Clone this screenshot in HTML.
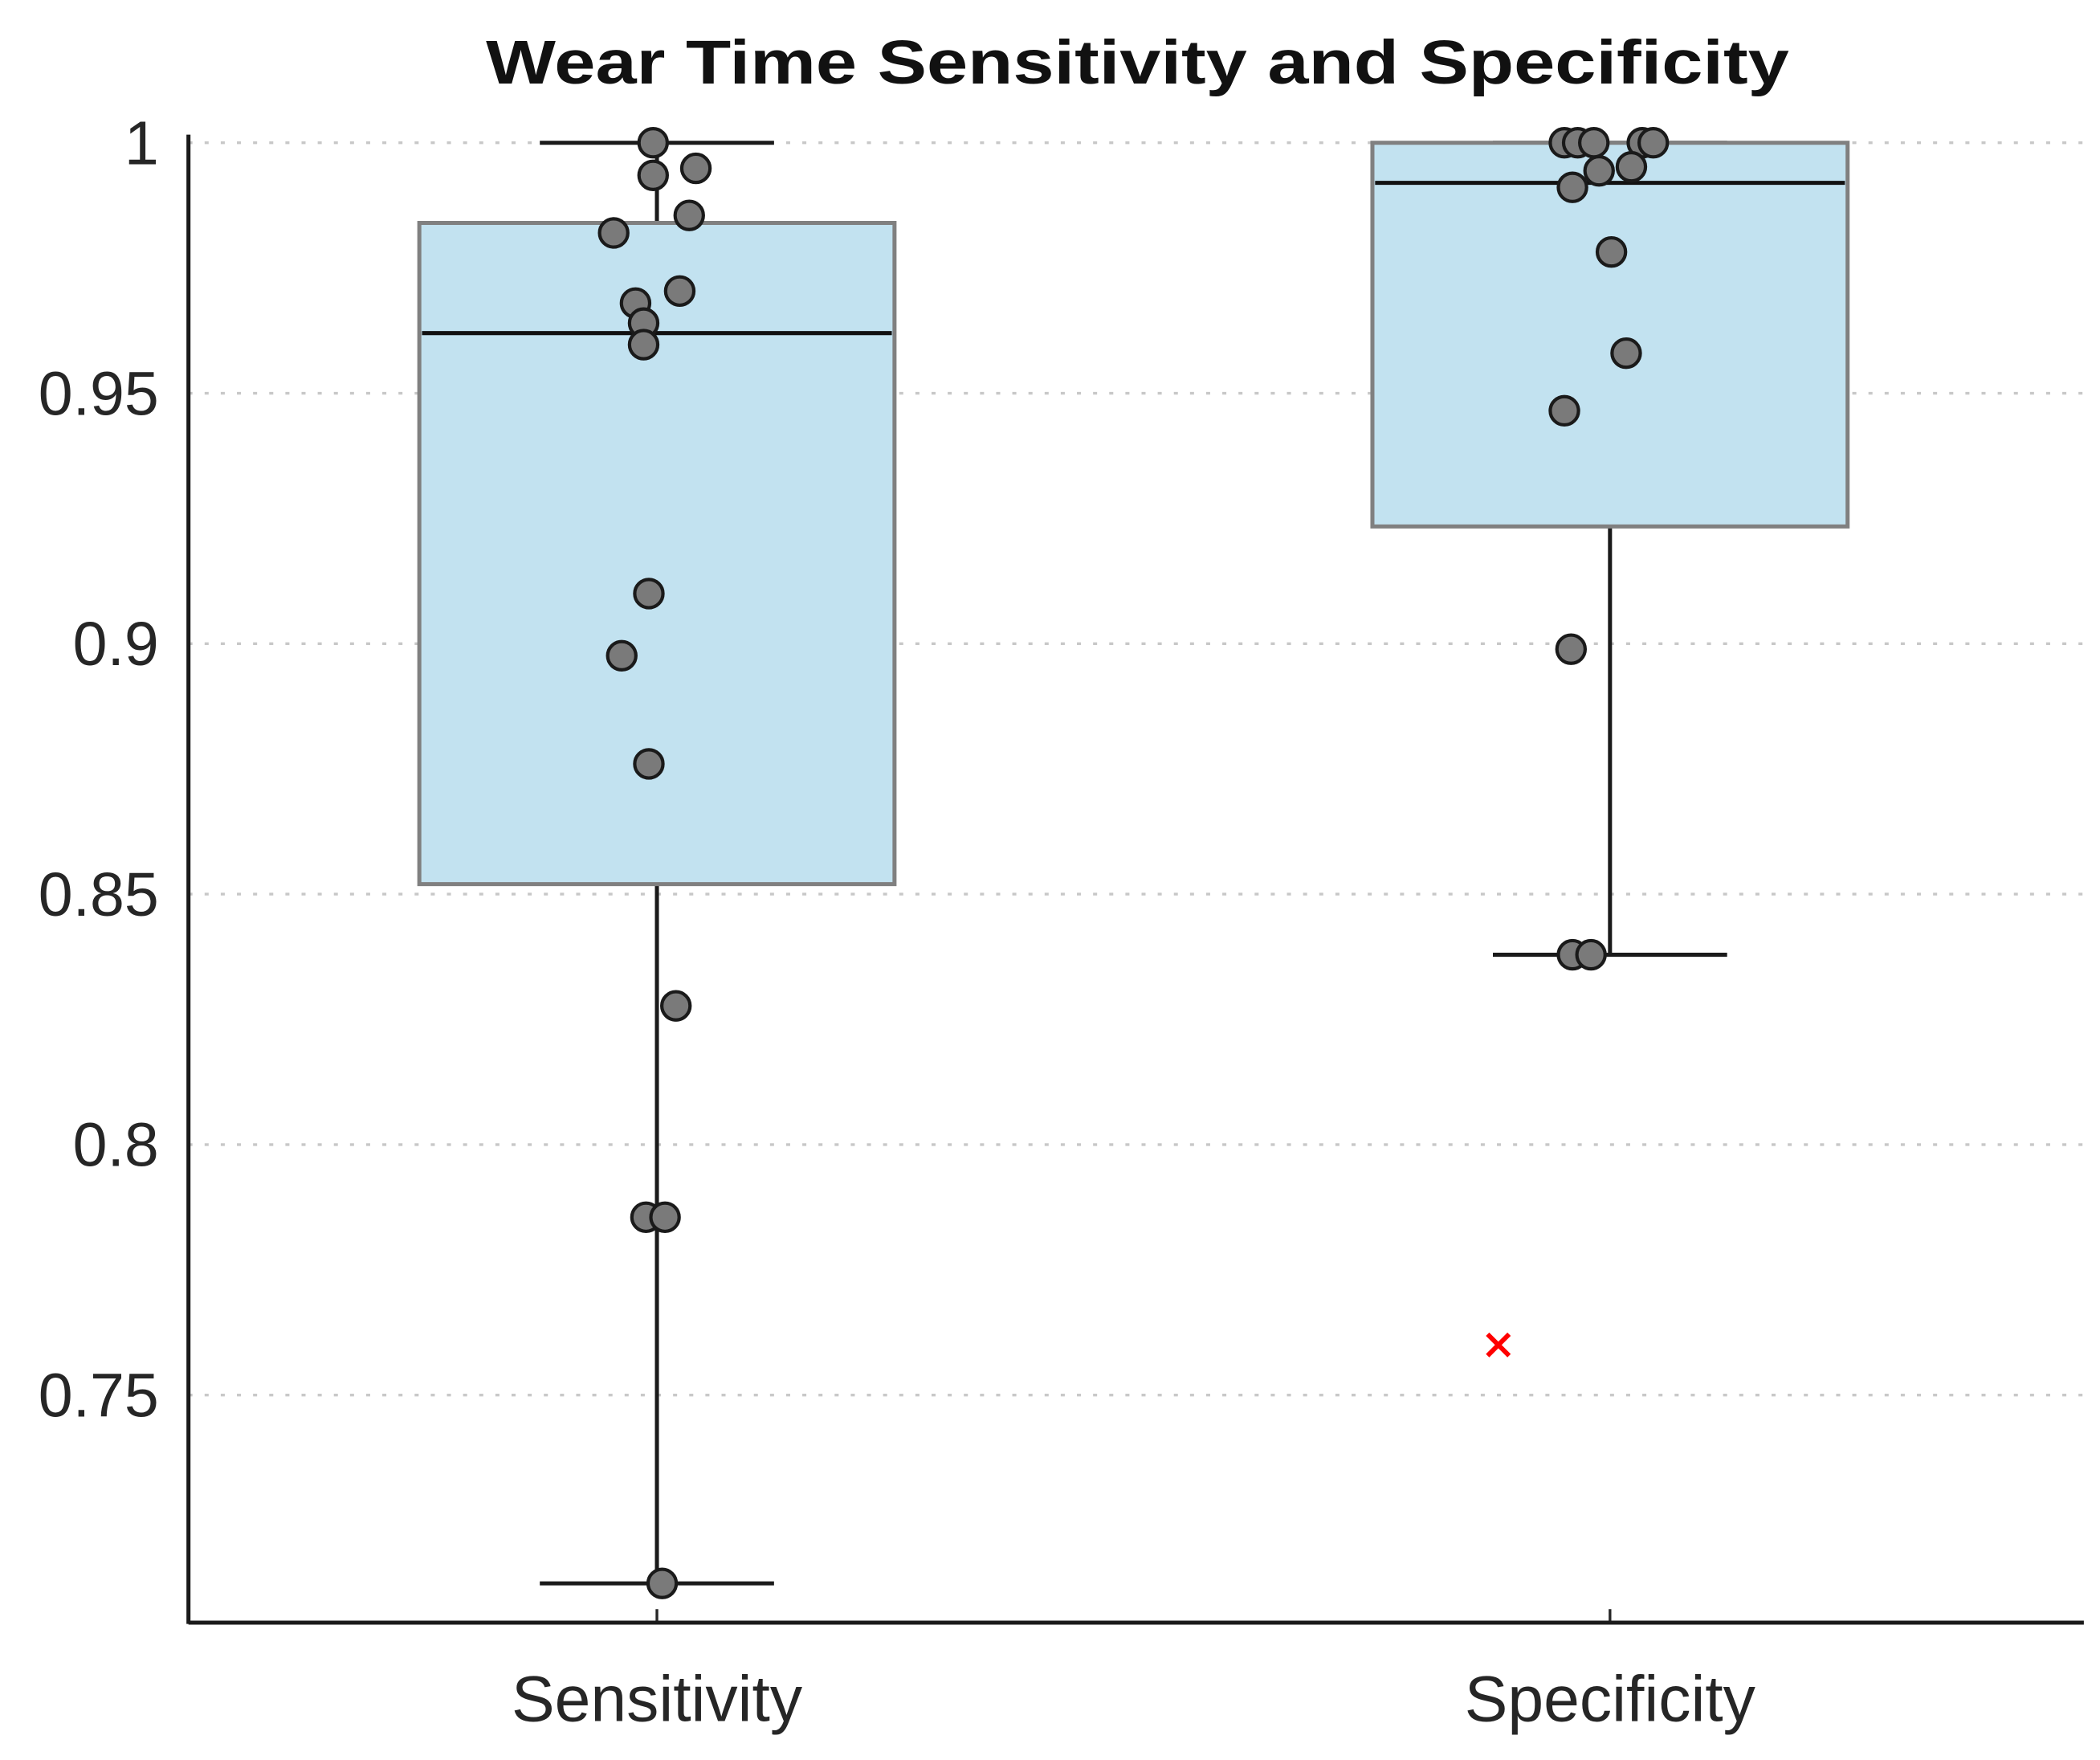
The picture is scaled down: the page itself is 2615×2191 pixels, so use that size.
<!DOCTYPE html>
<html><head><meta charset="utf-8"><style>
html,body{margin:0;padding:0;background:#fff}
svg{display:block}
text{font-family:"Liberation Sans",Arial,sans-serif}
</style></head><body>
<svg id="chart" width="2615" height="2191" viewBox="0 0 1560 1307" xmlns="http://www.w3.org/2000/svg"></svg>
<script>
const categories = ["Sensitivity", "Specificity"];
const q1 = [0.852, 0.9234];
const medians = [0.962, 0.992];
const q3 = [0.984, 1.0];
const whiskerLow = [0.7124, 0.8379];
const whiskerHigh = [1.0, 1.0];
const outlierCat = [1];
const outlierVal = [0.760];
const outlierJitter = [-0.235];
const sensValues = [1.0, 0.9935, 0.9949, 0.9855, 0.982, 0.968, 0.9704, 0.964, 0.9597, 0.91, 0.8976, 0.876, 0.8277, 0.7855, 0.7855, 0.7124];
const sensJitter = [-0.008, -0.008, 0.082, 0.068, -0.091, -0.045, 0.048, -0.028, -0.028, -0.017, -0.074, -0.017, 0.04, -0.023, 0.017, 0.011];
const specValues = [1.0, 1.0, 1.0, 1.0, 1.0, 0.9944, 0.9952, 0.9911, 0.9782, 0.958, 0.9465, 0.8989, 0.8379, 0.8379];
const specJitter = [-0.096, -0.068, -0.034, 0.068, 0.091, -0.023, 0.045, -0.079, 0.003, 0.034, -0.096, -0.082, -0.079, -0.04];
const yTicks = [0.75, 0.8, 0.85, 0.9, 0.95, 1];
const yTickLabels = ["0.75", "0.8", "0.85", "0.9", "0.95", "1"];

const NS = "http://www.w3.org/2000/svg";
const svg = document.getElementById("chart");
const plotL = 140, plotR = 1548, plotB = 1205;
const yVal0 = 1.0, yPix0 = 106, pxPer = 186 / 0.05;
function y(v){ return yPix0 + (yVal0 - v) * pxPer; }
const catX = [488, 1196];
const boxW = 353;
function x(i, j){ return catX[i] + (j || 0) * boxW; }
function mk(tag, attrs, parent){
  const e = document.createElementNS(NS, tag);
  for (const k in attrs) e.setAttribute(k, attrs[k]);
  (parent || svg).appendChild(e);
  return e;
}
// grid
yTicks.forEach((t, i) => {
  const g = mk("line", {x1: plotL, x2: plotR, y1: y(t), y2: y(t), stroke: "#c8c8c8", "stroke-width": 2, "stroke-dasharray": "3 9"});
  
  
  const tl = mk("text", {x: 118, y: y(t) + 16, "text-anchor": "end", "font-size": 46, fill: "#262626"});
  tl.textContent = yTickLabels[i];
  
  
});
// boxes
categories.forEach((c, i) => {
  const wl = mk("line", {x1: x(i), x2: x(i), y1: y(whiskerHigh[i]), y2: y(whiskerLow[i]), stroke: "#1a1a1a", "stroke-width": 3});
  
  
  [whiskerHigh[i], whiskerLow[i]].forEach(v => {
    const cap = mk("line", {x1: x(i) - 87, x2: x(i) + 87, y1: y(v), y2: y(v), stroke: "#1a1a1a", "stroke-width": 3});
    
    
  });
  const b = mk("rect", {x: x(i) - boxW/2, y: y(q3[i]), width: boxW, height: y(q1[i]) - y(q3[i]), fill: "#c2e2f0", stroke: "#808080", "stroke-width": 3});
  
  
  const m = mk("line", {x1: x(i) - boxW/2 + 2, x2: x(i) + boxW/2 - 2, y1: y(medians[i]), y2: y(medians[i]), stroke: "#111", "stroke-width": 3});
  
  
  const cl = mk("text", {x: x(i), y: 1278, "text-anchor": "middle", "font-size": 48, fill: "#262626"});
  cl.textContent = c;
  
  
  const tk = mk("line", {x1: x(i), x2: x(i), y1: plotB, y2: plotB - 10, stroke: "#262626", "stroke-width": 2});
  
  
});
// points
function drawPts(vals, jit, i){
  vals.forEach((v, k) => {
    const p = mk("circle", {cx: x(i, jit[k]), cy: y(v), r: 10.5, fill: "#7a7a7a", stroke: "#1a1a1a", "stroke-width": 2.5});
    
    
  });
}
drawPts(sensValues, sensJitter, 0);
drawPts(specValues, specJitter, 1);
// outliers
outlierVal.forEach((v, k) => {
  const ox = x(outlierCat[k], outlierJitter[k]), oy = y(v);
  const o = mk("path", {d: `M${ox-8},${oy-8}L${ox+8},${oy+8}M${ox-8},${oy+8}L${ox+8},${oy-8}`, stroke: "#ff0000", "stroke-width": 3.5, fill: "none"});
  
  
});
// axes
const ya = mk("line", {x1: plotL, x2: plotL, y1: 100, y2: plotB + 1, stroke: "#1a1a1a", "stroke-width": 3});


const xa = mk("line", {x1: plotL, x2: plotR, y1: plotB, y2: plotB, stroke: "#1a1a1a", "stroke-width": 3});


const title = mk("text", {x: 845, y: 62, "text-anchor": "middle", "font-size": 46, "font-weight": "bold", fill: "#111", textLength: 968, lengthAdjust: "spacingAndGlyphs"});
title.textContent = "Wear Time Sensitivity and Specificity";


</script>
</body></html>
